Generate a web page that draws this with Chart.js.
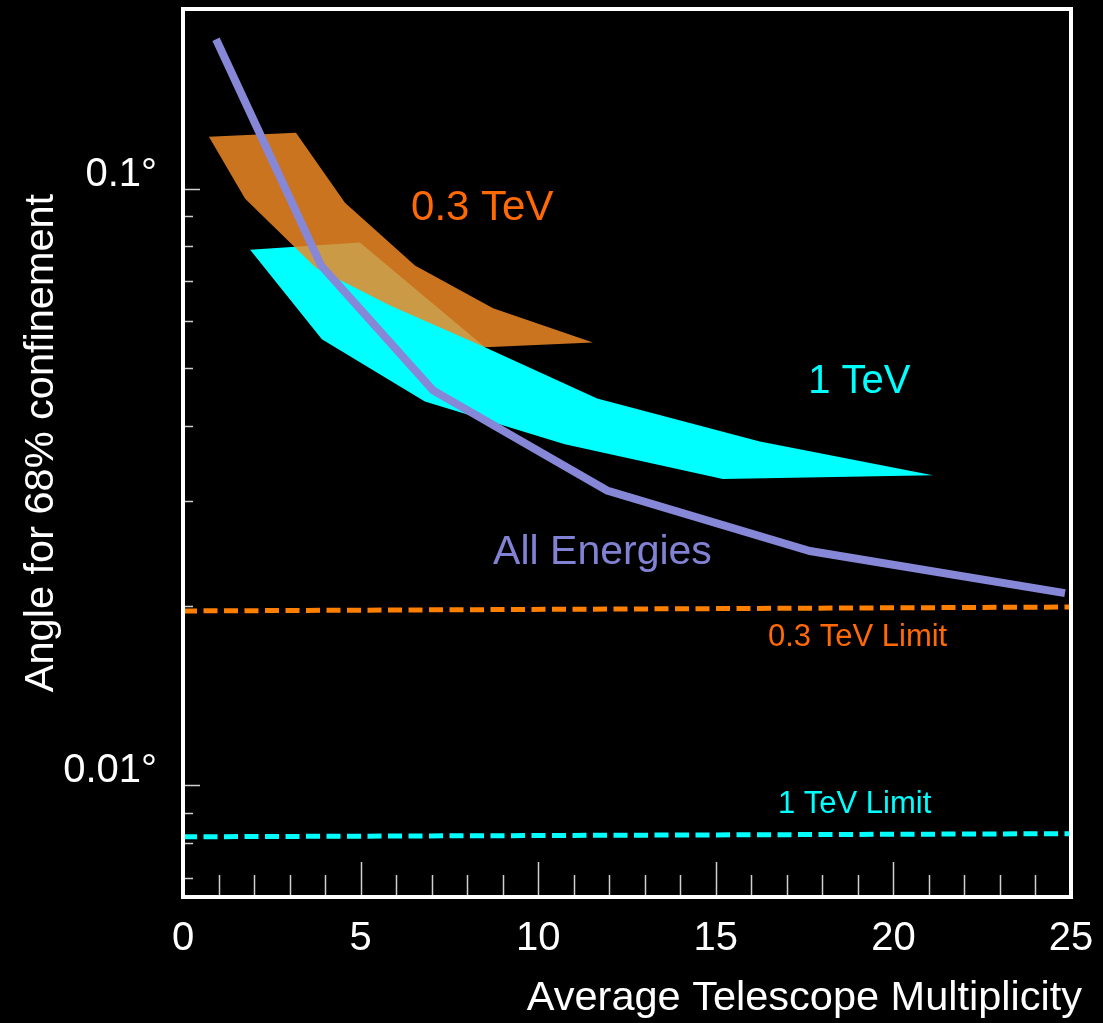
<!doctype html>
<html>
<head>
<meta charset="utf-8">
<title>Angular resolution vs telescope multiplicity</title>
<script src="https://cdn.jsdelivr.net/npm/chart.js@4.4.1/dist/chart.umd.min.js"></script>
<style>
  html, body { margin: 0; padding: 0; background: #000; }
  #wrap { width: 1103px; height: 1023px; }
</style>
</head>
<body>
<div id="wrap"><canvas id="psf" width="1103" height="1023"></canvas></div>
<script>
// --- data -------------------------------------------------------------
// all energies: 68% containment angle (deg) vs mean multiplicity
const allMult  = [0.93, 3.89, 7.04, 11.94, 17.65, 24.83];
const allAngle = [0.178, 0.0743, 0.0459, 0.0312, 0.0247, 0.0210];

// 0.3 TeV band, traced round the outline (upper edge then lower edge back)
const band03Mult  = [0.73, 3.18, 4.56, 6.53, 8.73, 11.54, 8.50, 5.83, 3.74, 1.75];
const band03Angle = [0.1222, 0.1241, 0.0947, 0.0743, 0.0630, 0.0552, 0.0542, 0.0637, 0.0737, 0.0962];

// 1 TeV band, same ordering
const band1Mult  = [1.89, 4.98, 8.50, 11.66, 16.24, 21.11, 15.20, 10.75, 6.81, 3.91];
const band1Angle = [0.0790, 0.0812, 0.0542, 0.0445, 0.0377, 0.0331, 0.0326, 0.0373, 0.0440, 0.0559];

// resolution limits
const limitMult    = [0, 25];
const limit03Angle = [0.0196, 0.0199];
const limit1Angle  = [0.0082, 0.0083];

// axis ticks
const yTicks = [0.007, 0.008, 0.009, 0.01, 0.02, 0.03, 0.04, 0.05, 0.06, 0.07, 0.08, 0.09, 0.1];
const yLabelled = { 0.01: '0.01\u00b0', 0.1: '0.1\u00b0' };

const FONT = '"Liberation Sans", Arial, Helvetica, sans-serif';
const ORANGE = '#ff7f00';
const ORANGE_TXT = '#ff6a06';
const CYAN = '#00ffff';
const PURPLE = '#8787d7';

const pts = (xs, ys) => xs.map((x, i) => ({ x, y: ys[i] }));

// text notes placed in data coordinates (left edge, baseline)
const notes = [
  { text: '0.3 TeV',       x: 6.42,  y: 0.0887,  color: ORANGE_TXT, size: 42 },
  { text: '1 TeV',         x: 17.60, y: 0.0454,  color: CYAN,       size: 40 },
  { text: 'All Energies',  x: 8.73,  y: 0.0235,  color: '#8282d4',  size: 41 },
  { text: '0.3 TeV Limit', x: 16.47, y: 0.0171,  color: ORANGE_TXT, size: 31 },
  { text: '1 TeV Limit',   x: 16.75, y: 0.00898, color: CYAN,       size: 31 }
];

// inward tick marks on the left and bottom edges
const tickMarks = {
  id: 'tickMarks',
  beforeDatasetsDraw(chart) {
    const { ctx, chartArea: a, scales: { x, y } } = chart;
    ctx.save();
    ctx.strokeStyle = '#d0d0d0';
    ctx.lineWidth = 1.5;
    ctx.beginPath();
    x.ticks.forEach(t => {
      const px = Math.round(x.getPixelForValue(t.value)) + 0.5;
      const len = t.value % 5 === 0 ? 35 : 22;
      ctx.moveTo(px, a.bottom);
      ctx.lineTo(px, a.bottom - len);
    });
    y.ticks.forEach(t => {
      const py = Math.round(y.getPixelForValue(t.value)) + 0.5;
      const len = yLabelled[t.value] ? 17 : 10;
      ctx.moveTo(a.left, py);
      ctx.lineTo(a.left + len, py);
    });
    ctx.stroke();
    ctx.restore();
  }
};

// white frame, curve labels and axis titles
const decorations = {
  id: 'decorations',
  afterDatasetsDraw(chart) {
    const { ctx, chartArea: a, scales: { x, y } } = chart;
    ctx.save();
    ctx.strokeStyle = '#ffffff';
    ctx.lineWidth = 4;
    ctx.strokeRect(a.left, a.top, a.right - a.left, a.bottom - a.top);

    ctx.textAlign = 'left';
    ctx.textBaseline = 'alphabetic';
    notes.forEach(n => {
      ctx.font = n.size + 'px ' + FONT;
      ctx.fillStyle = n.color;
      ctx.fillText(n.text, x.getPixelForValue(n.x), y.getPixelForValue(n.y));
    });

    ctx.fillStyle = '#ffffff';
    ctx.font = '41.5px ' + FONT;
    ctx.textAlign = 'right';
    ctx.fillText('Average Telescope Multiplicity', 1082, 1010);

    ctx.translate(53, 443);
    ctx.rotate(-Math.PI / 2);
    ctx.textAlign = 'center';
    ctx.fillText('Angle for 68% confinement', 0, 0);
    ctx.restore();
  }
};

new Chart(document.getElementById('psf'), {
  type: 'line',
  data: {
    datasets: [
      {
        label: 'All Energies',
        data: pts(allMult, allAngle),
        borderColor: PURPLE,
        borderWidth: 8,
        borderJoinStyle: 'miter',
        pointRadius: 0,
        fill: false
      },
      {
        label: '0.3 TeV',
        data: pts(band03Mult, band03Angle),
        borderWidth: 0,
        borderColor: 'rgba(0,0,0,0)',
        backgroundColor: 'rgba(237,136,38,0.85)',
        pointRadius: 0,
        fill: 'shape'
      },
      {
        label: '1 TeV',
        data: pts(band1Mult, band1Angle),
        borderWidth: 0,
        borderColor: 'rgba(0,0,0,0)',
        backgroundColor: CYAN,
        pointRadius: 0,
        fill: 'shape'
      },
      {
        label: '0.3 TeV Limit',
        data: pts(limitMult, limit03Angle),
        borderColor: ORANGE,
        borderWidth: 5,
        borderDash: [14, 6.5],
        pointRadius: 0,
        fill: false
      },
      {
        label: '1 TeV Limit',
        data: pts(limitMult, limit1Angle),
        borderColor: CYAN,
        borderWidth: 5,
        borderDash: [14, 6.5],
        pointRadius: 0,
        fill: false
      }
    ]
  },
  options: {
    responsive: false,
    animation: false,
    layout: { padding: { top: 9, right: 32, left: 0, bottom: 0 } },
    plugins: {
      legend: { display: false },
      tooltip: { enabled: false }
    },
    elements: { line: { tension: 0 } },
    scales: {
      x: {
        type: 'linear',
        min: 0,
        max: 25,
        grid: { display: false, drawTicks: false },
        border: { display: false },
        ticks: {
          stepSize: 1,
          autoSkip: false,
          maxRotation: 0,
          padding: 18,
          color: '#ffffff',
          font: { family: FONT, size: 40 },
          callback: v => (v % 5 === 0 ? String(v) : '')
        },
        afterFit(scale) {
          scale.height = 126;
          scale.paddingLeft = 0;
          scale.paddingRight = 0;
        }
      },
      y: {
        type: 'logarithmic',
        min: 0.0065,
        max: 0.2,
        grid: { display: false, drawTicks: false },
        border: { display: false },
        afterBuildTicks(scale) { scale.ticks = yTicks.map(v => ({ value: v })); },
        ticks: {
          autoSkip: false,
          padding: 26,
          labelOffset: -14,
          color: '#ffffff',
          font: { family: FONT, size: 40 },
          callback: v => yLabelled[v] || ''
        },
        afterFit(scale) {
          scale.width = 183;
          scale.paddingTop = 0;
          scale.paddingBottom = 0;
        }
      }
    }
  },
  plugins: [tickMarks, decorations]
});
</script>
</body>
</html>
